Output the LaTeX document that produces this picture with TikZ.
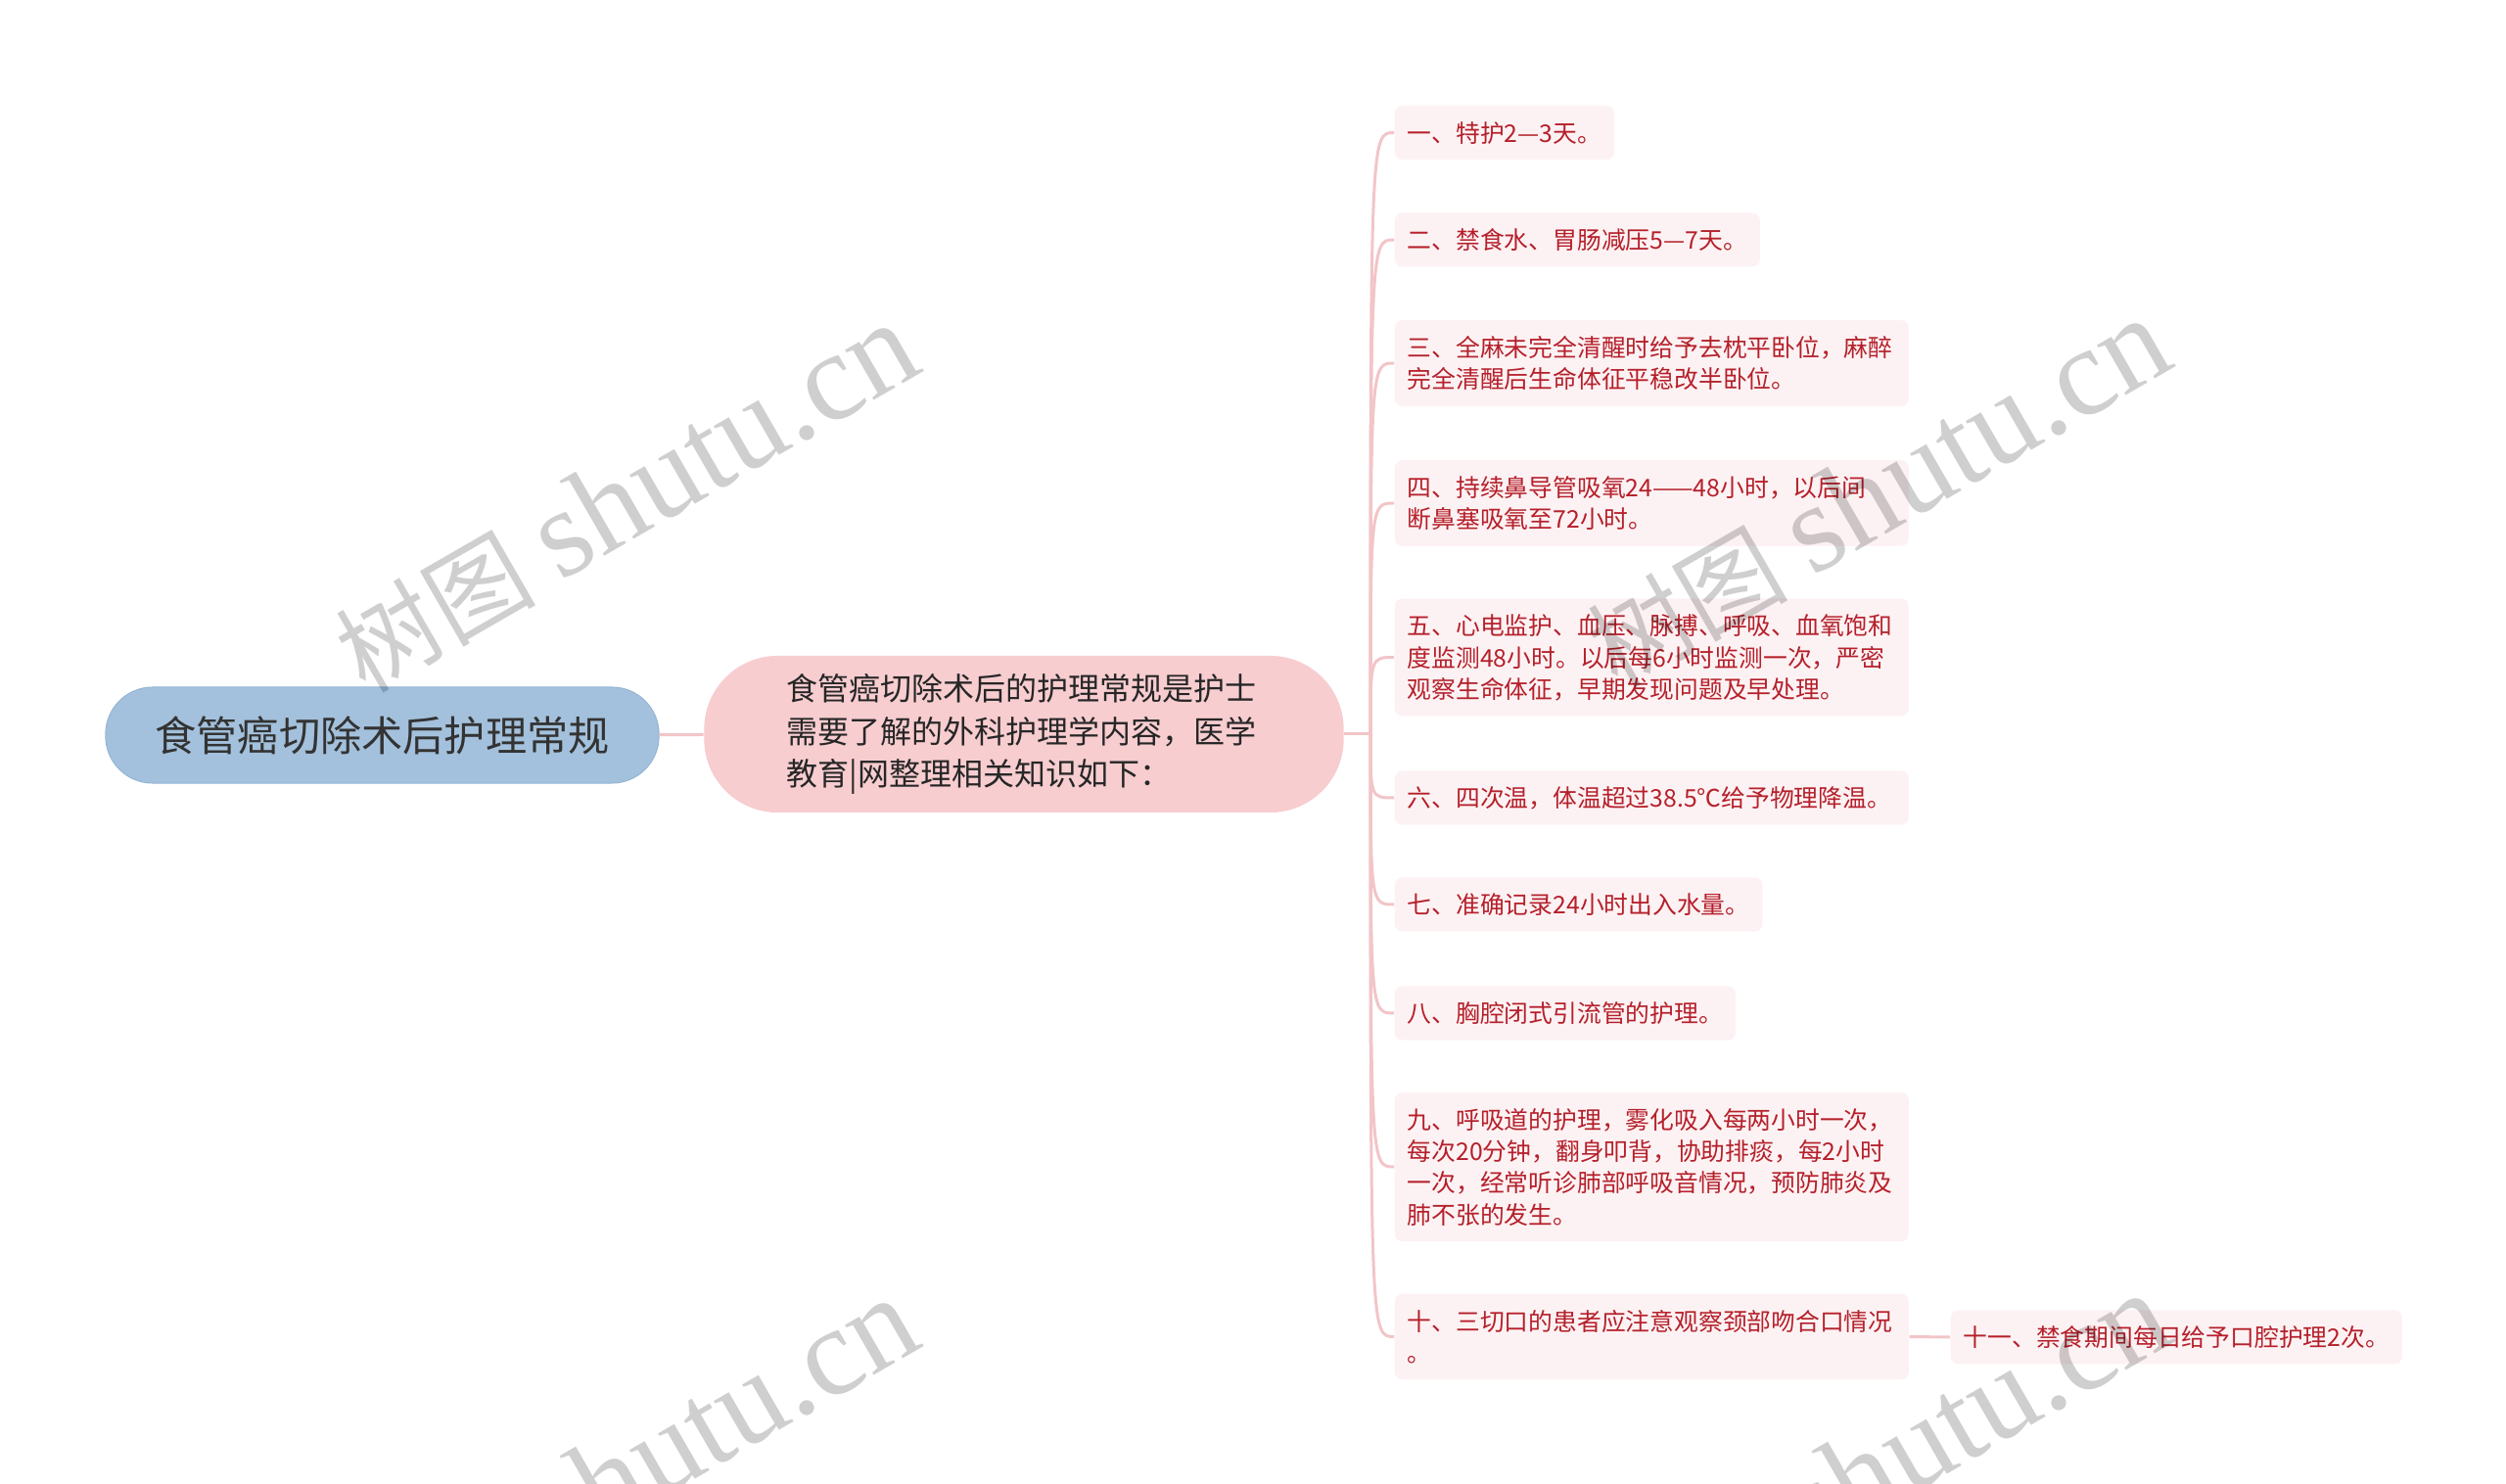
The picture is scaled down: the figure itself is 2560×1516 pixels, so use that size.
\documentclass[tikz,border=0pt]{standalone}
\usepackage{fontspec}
\setmainfont{Noto Sans CJK SC}
\newfontfamily\wmlatin{Liberation Serif}
\definecolor{rootblue}{HTML}{A3C1DC}
\definecolor{rootedge}{HTML}{95B5D4}
\definecolor{midpink}{HTML}{F7CDD0}
\definecolor{leafpink}{HTML}{FDF2F3}
\definecolor{linkpink}{HTML}{F2C5C8}
\definecolor{leafred}{HTML}{B5202B}
\newcommand\leafstrut{\rule[-0.2\baselineskip]{0pt}{\baselineskip}}
\newcommand\wmtext{{\fontsize{29}{29}\selectfont 树图\hspace{0.25em}}{\wmlatin\fontsize{36.5}{36.5}\selectfont shutu.cn}}

\tikzset{
  link/.style={draw=linkpink, line width=0.03cm},
  rootnode/.style={fill=rootblue, draw=rootedge, line width=0.01cm, rounded corners=0.48cm,
    minimum width=5.65cm, minimum height=0.98cm, text=black!80, font=\fontsize{12}{14}\selectfont},
  midnode/.style={fill=midpink, rounded corners=0.75cm, minimum width=6.53cm, minimum height=1.6cm,
    text width=4.85cm, align=left, text=black!85, font=\fontsize{9.1}{12.3}\selectfont},
  leaf/.style={anchor=west, fill=leafpink, rounded corners=0.08cm, text=leafred,
    inner xsep=0.13cm, inner ysep=0.115cm, align=left, font=\fontsize{7.05}{9.2}\selectfont,
    execute at begin node=\leafstrut, execute at end node=\leafstrut},
  wide/.style={text width=4.99cm},
  wmark/.style={anchor=base, rotate=30, text=black, opacity=0.19}
}

\begin{document}
\begin{tikzpicture}[x=0.01cm, y=-0.01cm]
    \useasboundingbox (0,0) rectangle (2560,1516);

    \node[rootnode] (root) at (390.5,751) {食管癌切除术后护理常规};
    \node[midnode] (mid) at (1046,750) {食管癌切除术后的护理常规是护士\\需要了解的外科护理学内容，医学\\教育|网整理相关知识如下：};

    \node[leaf] (n1) at (1424,135.5) {一、特护2—3天。};
    \node[leaf] (n2) at (1424,245) {二、禁食水、胃肠减压5—7天。};
    \node[leaf, wide] (n3) at (1424,371) {三、全麻未完全清醒时给予去枕平卧位，麻醉\\完全清醒后生命体征平稳改半卧位。};
    \node[leaf, wide] (n4) at (1424,514) {四、持续鼻导管吸氧24——48小时，以后间\\断鼻塞吸氧至72小时。};
    \node[leaf, wide] (n5) at (1424,671.5) {五、心电监护、血压、脉搏、呼吸、血氧饱和\\度监测48小时。以后每6小时监测一次，严密\\观察生命体征，早期发现问题及早处理。};
    \node[leaf, wide] (n6) at (1424,815) {六、四次温，体温超过38.5℃给予物理降温。};
    \node[leaf] (n7) at (1424,924) {七、准确记录24小时出入水量。};
    \node[leaf] (n8) at (1424,1035) {八、胸腔闭式引流管的护理。};
    \node[leaf, wide] (n9) at (1424,1192) {九、呼吸道的护理，雾化吸入每两小时一次，\\每次20分钟，翻身叩背，协助排痰，每2小时\\一次，经常听诊肺部呼吸音情况，预防肺炎及\\肺不张的发生。};
    \node[leaf, wide] (n10) at (1424,1365.5) {十、三切口的患者应注意观察颈部吻合口情况\\。};
    \node[leaf] (n11) at (1992,1366) {十一、禁食期间每日给予口腔护理2次。};

    \coordinate (fork) at (1400,750);
    \draw[link] (root) -- (mid);
    \draw[link] (mid.east) -- (fork);
    \foreach \i in {1,...,10}
        \draw[link] (fork) .. controls (fork |- n\i.west) .. (n\i.west);
    \draw[link] (n10.east) -- (n11.west);

    \node[wmark] (wm1) at (660,544) {\wmtext};
    \node[wmark] (wm2) at (1939,539) {\wmtext};
    \node[wmark] (wm3) at (660,1540) {\wmtext};
    \node[wmark] (wm4) at (1939,1535) {\wmtext};
\end{tikzpicture}
\end{document}
